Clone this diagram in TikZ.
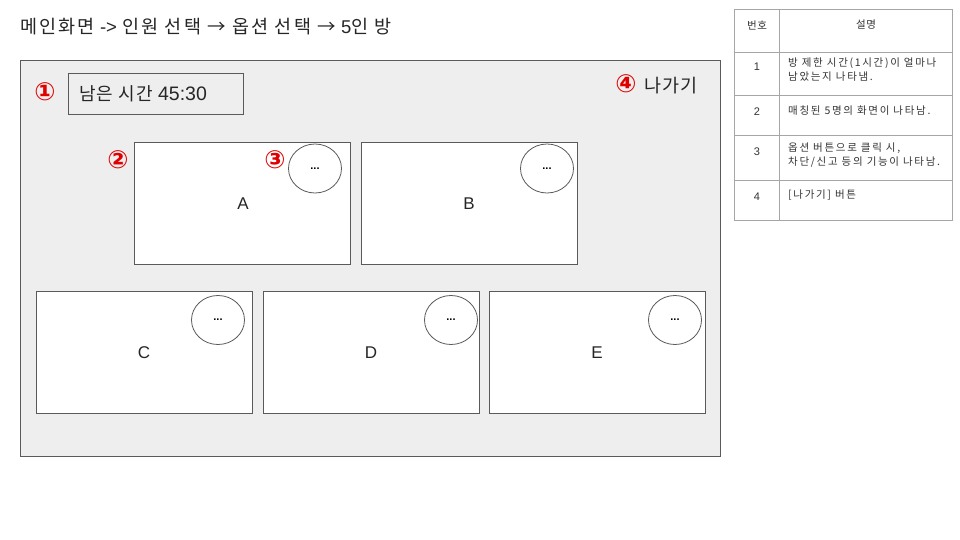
\documentclass[tikz,border=0pt]{standalone}
\usepackage{fontspec}
\setmainfont{Liberation Sans}
\newfontfamily\kr{Noto Sans CJK KR}
\newfontfamily\krsp[LetterSpace=6]{Noto Sans CJK KR}
\newfontfamily\krtitle[LetterSpace=12]{Noto Sans CJK KR}
\newfontfamily\krtbl[LetterSpace=16]{Noto Sans CJK KR}
\newfontfamily\circfont{DejaVu Sans}
\usetikzlibrary{shapes.geometric}
\definecolor{framegray}{HTML}{EEEEEE}
\definecolor{linegray}{HTML}{5A5A5A}
\definecolor{tblgray}{HTML}{A6A6A6}
\definecolor{mark}{HTML}{E00000}
\definecolor{txt}{HTML}{262626}
\tikzset{
  panel/.style={draw=linegray, fill=white, line width=0.8pt, minimum width=216pt, minimum height=122pt, inner sep=0pt},
  opt/.style={draw=linegray, fill=white, ellipse, line width=0.8pt, minimum width=53pt, minimum height=49pt, inner sep=0pt, font=\fontsize{11}{11}\selectfont\bfseries},
  letter/.style={font=\fontsize{17}{17}\selectfont, inner sep=0pt, text=txt},
  num/.style={text=mark, font=\fontsize{25}{25}\selectfont\circfont\bfseries, inner sep=0pt},
  cell/.style={draw=tblgray, line width=0.6pt, anchor=north west, inner sep=0pt},
  tnum/.style={font=\fontsize{11}{11}\selectfont, text=black!80, inner sep=0pt},
  tdesc/.style={font=\fontsize{10.5}{13.5}\selectfont\krtbl, text=black!80, inner sep=0pt, anchor=north west, align=left},
}
\begin{document}
\begin{tikzpicture}[x=1pt,y=-1pt]
\useasboundingbox[fill=white] (0,0) rectangle (960,540);
% title
\node[anchor=west, inner sep=0pt, font=\fontsize{18.5}{18.5}\selectfont, text=txt] (title) at (20,27) {{\krtitle 메인화면} -> {\krtitle 인원 선택 → 옵션 선택 →} 5{\krtitle 인 방}};
% frame
\node[draw=linegray, fill=framegray, line width=0.8pt, minimum width=700pt, minimum height=396pt, inner sep=0pt, anchor=north west] (frame) at (20,60) {};
% timer
\node[draw=linegray, line width=0.8pt, minimum width=175pt, minimum height=41pt, inner sep=0pt, anchor=north west] (timer) at (68,73) {};
\node[anchor=west, inner sep=0pt, font=\fontsize{19.5}{19.5}\selectfont, text=txt] (timertext) at (79,94) {{\krsp\fontsize{18}{18}\selectfont 남은 시간} 45:30};
\node[num] (n1) at (45,92) {①};
% exit
\node[num] (n4) at (626,84) {④};
\node[anchor=west, inner sep=0pt, font=\fontsize{18.5}{18.5}\selectfont\krsp, text=txt] (exit) at (644,86) {나가기};
% panels
\node[panel, anchor=north west] (A) at (134,142) {};
\node[panel, anchor=north west] (B) at (361,142) {};
\node[panel, anchor=north west] (C) at (36,291) {};
\node[panel, anchor=north west] (D) at (263,291) {};
\node[panel, anchor=north west] (E) at (489,291) {};
\node[letter] (la) at (243,204) {A};
\node[letter] (lb) at (469,204) {B};
\node[letter] (lc) at (144,353) {C};
\node[letter] (ld) at (371,353) {D};
\node[letter] (le) at (597,353) {E};
\node[opt] (oa) at (315,168.5) {...};
\node[opt] (ob) at (547,168.5) {...};
\node[opt] (oc) at (218,320) {...};
\node[opt] (od) at (451,320) {...};
\node[opt] (oe) at (675,320) {...};
\node[num] (n2) at (118,160) {②};
\node[num] (n3) at (275,160) {③};
% table
\node[cell, minimum width=45pt, minimum height=43pt] (h1) at (734,9) {};
\node[cell, minimum width=173pt, minimum height=43pt] (h2) at (779,9) {};
\node[cell, minimum width=45pt, minimum height=43pt] (r1a) at (734,52) {};
\node[cell, minimum width=173pt, minimum height=43pt] (r1b) at (779,52) {};
\node[cell, minimum width=45pt, minimum height=40pt] (r2a) at (734,95) {};
\node[cell, minimum width=173pt, minimum height=40pt] (r2b) at (779,95) {};
\node[cell, minimum width=45pt, minimum height=45pt] (r3a) at (734,135) {};
\node[cell, minimum width=173pt, minimum height=45pt] (r3b) at (779,135) {};
\node[cell, minimum width=45pt, minimum height=40pt] (r4a) at (734,180) {};
\node[cell, minimum width=173pt, minimum height=40pt] (r4b) at (779,180) {};
\node[tnum, font=\fontsize{10.5}{10.5}\selectfont\krsp] (th1) at (757,25) {번호};
\node[tnum, font=\fontsize{10.5}{10.5}\selectfont\krsp] (th2) at (866,25) {설명};
\node[tnum] (t1) at (757,67) {1};
\node[tnum] (t2) at (757,112) {2};
\node[tnum] (t3) at (757,152) {3};
\node[tnum] (t4) at (757,197) {4};
\node[tdesc] (d1) at (788,58) {방 제한 시간(1시간)이 얼마나\\남았는지 나타냄.};
\node[tdesc] (d2) at (788,106) {매칭된 5명의 화면이 나타남.};
\node[tdesc] (d3) at (788,143) {옵션 버튼으로 클릭 시,\\차단/신고 등의 기능이 나타남.};
\node[tdesc] (d4) at (788,190) {[나가기] 버튼};
\end{tikzpicture}
\end{document}
